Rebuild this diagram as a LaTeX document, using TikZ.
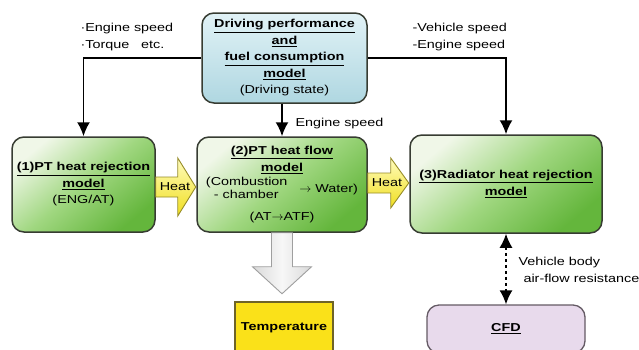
\documentclass[tikz,border=0pt]{standalone}
\usepackage{fontspec}
\setmainfont[FakeStretch=1.25]{Liberation Sans}
\usepackage{tikz}
\usepackage{xcolor}
\usetikzlibrary{arrows.meta}

\definecolor{boxline}{RGB}{55,60,50}
\definecolor{greenlight}{RGB}{240,247,232}
\definecolor{greenmid}{RGB}{160,215,128}
\definecolor{greendark}{RGB}{100,182,60}
\definecolor{bluelight}{RGB}{225,242,246}
\definecolor{bluedark}{RGB}{175,215,225}
\definecolor{heatlight}{RGB}{255,252,190}
\definecolor{heatyellow}{RGB}{240,222,30}
\definecolor{heatline}{RGB}{150,140,40}
\definecolor{templine}{RGB}{110,100,40}
\definecolor{tempyellow}{RGB}{250,225,25}
\definecolor{cfdfill}{RGB}{232,218,236}
\definecolor{cfdline}{RGB}{100,90,100}

\begin{document}
\begin{tikzpicture}[x=1pt, y=-1pt,
					every node/.style={font=\fontsize{11.5}{16.5}\selectfont},
					flowline/.style={line width=1.8pt, -{Latex[length=14pt, width=13pt]}},
					model/.style={draw=boxline, line width=1.5pt, rounded corners=12pt, align=center, inner sep=2pt, top color=greenlight, bottom color=greendark, middle color=greenmid, shading angle=40},
					drivebox/.style={model, top color=bluelight, bottom color=bluedark, shading angle=0},
					tempbox/.style={draw=templine, line width=1.2pt, fill=tempyellow},
					cfdbox/.style={draw=cfdline, line width=1.3pt, fill=cfdfill, rounded corners=12pt},
					heatarrow/.style={draw=heatline, line width=0.9pt, top color=heatlight, bottom color=heatyellow},
					outarrow/.style={draw=gray!75, line width=0.9pt, left color=gray!30, right color=gray!30, middle color=gray!6},]
					\useasboundingbox (0,0) rectangle (639,349);
					\clip (0,0) rectangle (639,349);

					\node[drivebox, minimum width=165pt, minimum height=90pt] (drive) at (284.5,58) {\underline{\textbf{Driving performance}}\\\underline{\textbf{and}}\\\underline{\textbf{fuel consumption}}\\\underline{\textbf{model}}\\(Driving state)};
					\node[model, minimum width=143pt, minimum height=95pt] (ptrej) at (83.5,184.5) {\underline{\textbf{(1)PT heat rejection}}\\\underline{\textbf{model}}\\(ENG/AT)};
					\node[model, minimum width=170pt, minimum height=95pt] (ptflow) at (282,184.5) {\underline{\textbf{(2)PT heat flow}}\\\underline{\textbf{model}}\\[2pt]\renewcommand\arraystretch{0.8}\begin{tabular}{@{}l@{}}(Combustion\\\ \ - chamber\end{tabular}\ \ \ $\rightarrow$ Water)\\[8pt](AT$\rightarrow$ATF)};
					\node[model, minimum width=192pt, minimum height=98pt] (radrej) at (506,184) {\underline{\textbf{(3)Radiator heat rejection}}\\\underline{\textbf{model}}};
					\node[tempbox, minimum width=98pt, minimum height=52pt] (temp) at (284,328) {\textbf{Temperature}};
					\node[cfdbox, minimum width=158pt, minimum height=48pt] (cfd) at (506,329) {\underline{\textbf{CFD}}};

					\draw[flowline] (drive.west) -| (ptrej.north);
					\draw[flowline] (ptflow.north |- drive.south) -- (ptflow.north);
					\draw[flowline] (drive.east) -| (radrej.north);
					\node[anchor=west, align=left] (inL) at (77,37) {·Engine speed\\·Torque\ \ \ etc.};
					\node[anchor=west, align=left] (inR) at (409,37) {-Vehicle speed\\-Engine speed};
					\node[anchor=west] (inM) at (292,124) {Engine speed};

					\draw[heatarrow] ([yshift=7.5pt]ptrej.east) -- ++(22,0) -- ++(0,-19) -- ++(18,29) -- ++(-18,29) -- ++(0,-19) -- ++(-22,0) -- cycle;
					\node (heatA) at (175,187) {Heat};
					\draw[heatarrow] ([yshift=11.5pt]ptflow.east) -- ++(23,0) -- ++(0,-15) -- ++(18,25) -- ++(-18,25) -- ++(0,-15) -- ++(-23,0) -- cycle;
					\node (heatB) at (387,183) {Heat};

					\draw[outarrow] ([xshift=-10.5pt]ptflow.south) -- ++(0,34) -- ++(-19,0) -- ++(29.5,27) -- ++(29.5,-27) -- ++(-19,0) -- ++(0,-34) -- cycle;

					\draw[line width=1.6pt, dashed, {Latex[length=14pt, width=13pt]}-{Latex[length=14pt, width=13pt]}] (radrej.south) -- (cfd.north);
					\node[anchor=west, align=left] (drag) at (515,270) {Vehicle body\\\hspace{5pt}air-flow resistance};
				\end{tikzpicture}
\end{document}
